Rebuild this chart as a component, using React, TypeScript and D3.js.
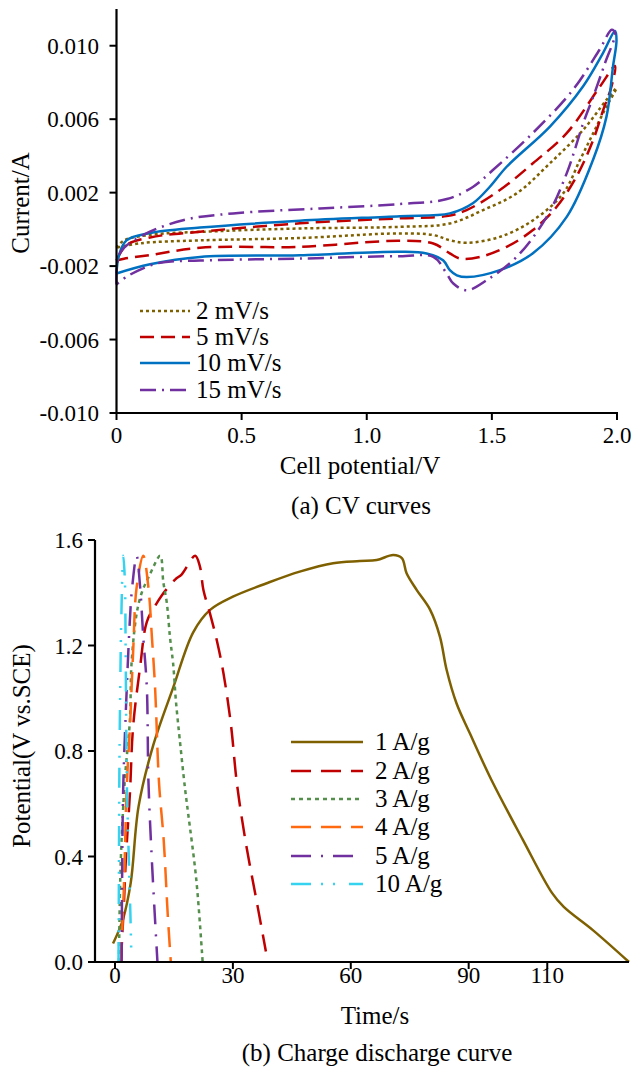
import React from "react";
import * as d3 from "d3";

const W = 639;
const H = 1069;
const FONT = '"Liberation Serif", "Times New Roman", serif';

// ---------- (a) CV curves ----------
const cvNames = ["2 mV/s", "5 mV/s", "10 mV/s", "15 mV/s"];
const cvColors = ["#7f6000", "#c00000", "#0070c0", "#7030a0"];
const cvDashes = ["3,3", "14,7", "none", "16,6,2,6"];
const cvXTicks = [0, 0.5, 1, 1.5, 2];
const cvXTickLabels = ["0", "0.5", "1.0", "1.5", "2.0"];
const cvYTicks = [-0.01, -0.006, -0.002, 0.002, 0.006, 0.01];

// [potential V, current A] anodic sweep then cathodic sweep
const cv2Anodic: [number, number][] = [
  [0, -0.001], [0.03, -0.0006], [0.134, -0.0003], [0.4, -0.0001], [0.733, 0.00005],
  [1.133, 0.00014], [1.332, 0.00032], [1.465, 0.00105], [1.599, 0.00196], [1.732, 0.0036],
  [1.865, 0.00542], [1.958, 0.00705], [1.998, 0.00769],
];
const cv2Cathodic: [number, number][] = [
  [1.958, 0.00669], [1.905, 0.00524], [1.852, 0.00378], [1.785, 0.00196], [1.665, 0.0005],
  [1.532, -0.00041], [1.399, -0.00073], [1.332, -0.00059], [1.266, -0.00031], [1.133, -0.00022],
  [0.733, -0.00047], [0.334, -0.0006], [0.1, -0.00075], [0, -0.001],
];
const cv5Anodic: [number, number][] = [
  [0, -0.0017], [0.04, -0.00086], [0.134, -0.00044], [0.334, -0.00013], [0.733, 0.00033],
  [1.133, 0.0006], [1.319, 0.00072], [1.399, 0.00105], [1.532, 0.00214], [1.664, 0.0036],
  [1.799, 0.00524], [1.932, 0.00778], [1.992, 0.0089],
];
const cv5Cathodic: [number, number][] = [
  [1.978, 0.00778], [1.945, 0.00651], [1.905, 0.00487], [1.838, 0.00287], [1.759, 0.00123],
  [1.664, -0.00004], [1.559, -0.00095], [1.452, -0.0015], [1.372, -0.00159], [1.332, -0.00131],
  [1.266, -0.00077], [1.133, -0.00062], [0.733, -0.00095], [0.334, -0.001], [0.134, -0.0014],
  [0.03, -0.0016], [0, -0.0017],
];
const cv10Anodic: [number, number][] = [
  [0, -0.0024], [0.01, -0.0014], [0.04, -0.0006], [0.134, -0.0002], [0.334, 0.0001],
  [0.733, 0.00047], [1.133, 0.00072], [1.332, 0.00087], [1.424, 0.00142], [1.492, 0.00232],
  [1.559, 0.00341], [1.732, 0.0056], [1.864, 0.00778], [1.944, 0.0096], [1.992, 0.0108],
];
const cv10Cathodic: [number, number][] = [
  [1.998, 0.0103], [1.984, 0.00887], [1.958, 0.00614], [1.904, 0.00378], [1.799, 0.00068],
  [1.664, -0.0013], [1.532, -0.00222], [1.4, -0.0026], [1.36, -0.0025], [1.332, -0.00222],
  [1.305, -0.00168], [1.239, -0.00131], [1.133, -0.00122], [0.733, -0.00141], [0.334, -0.0015],
  [0.134, -0.0019], [0, -0.0024],
];
const cv15Anodic: [number, number][] = [
  [0, -0.003], [0.014, -0.0013], [0.094, -0.0004], [0.266, 0.0005], [0.466, 0.00087],
  [0.813, 0.00114], [1.133, 0.00138], [1.32, 0.00165], [1.424, 0.00231], [1.504, 0.00323],
  [1.664, 0.00525], [1.824, 0.0076], [1.93, 0.00978], [1.979, 0.01087],
];
const cv15Cathodic: [number, number][] = [
  [1.992, 0.0107], [1.952, 0.00905], [1.905, 0.00723], [1.865, 0.00578], [1.799, 0.00305],
  [1.719, 0.00068], [1.599, -0.0015], [1.479, -0.00277], [1.399, -0.00332], [1.346, -0.00295],
  [1.319, -0.0024], [1.266, -0.0015], [1.133, -0.00146], [0.733, -0.00159], [0.334, -0.0017],
  [0.167, -0.00184], [0.05, -0.0025], [0, -0.003],
];
const cvData = [
  [...cv2Anodic, ...cv2Cathodic],
  [...cv5Anodic, ...cv5Cathodic],
  [...cv10Anodic, ...cv10Cathodic],
  [...cv15Anodic, ...cv15Cathodic],
];

// ---------- (b) charge discharge ----------
const gcdNames = ["1 A/g", "2 A/g", "3 A/g", "4 A/g", "5 A/g", "10 A/g"];
const gcdColors = ["#7f6000", "#c00000", "#548f4c", "#ff6a10", "#7030a0", "#35d3ef"];
const gcdDashes = ["none", "20,10", "4,4", "20,10", "20,10,2,10", "20,10,2,10,2,14"];
const gcdXTicks = [0, 30, 60, 90, 110];
const gcdYTicks = [0, 0.4, 0.8, 1.2, 1.6];

// [time s, potential V]
const gcd1: [number, number][] = [
  [-0.5, 0.07], [1, 0.12], [2, 0.16], [4, 0.3], [6, 0.59], [9.7, 0.82], [14.8, 1.04],
  [19.9, 1.25], [24.2, 1.335], [30, 1.385], [38.6, 1.436], [47, 1.48], [55.5, 1.512],
  [62.3, 1.52], [66.6, 1.524], [70.8, 1.543], [73, 1.531], [74.2, 1.474], [76.8, 1.41],
  [80.2, 1.335], [82.7, 1.233], [84.4, 1.107], [86.9, 0.981], [90.3, 0.867], [95.8, 0.69],
  [103.8, 0.463], [111.2, 0.262], [114.2, 0.209], [121.6, 0.121], [130.8, 0],
];
const gcd2: [number, number][] = [
  [1.5, 0], [2.2, 0.2], [2.8, 0.4], [3.8, 0.64], [4.6, 0.89], [6.4, 1.12], [8.1, 1.29],
  [10.2, 1.35], [11.9, 1.39], [15.3, 1.45], [17, 1.47], [20.4, 1.54], [21.6, 1.5],
  [22.5, 1.41], [24.2, 1.32], [25.9, 1.22], [27.6, 1.095], [29.5, 0.9], [31, 0.68],
  [33.2, 0.46], [36.3, 0.21], [38.4, 0.04],
];
const gcd3: [number, number][] = [
  [1, 0], [1.45, 0.375], [2.5, 0.69], [3.8, 0.92], [4.2, 1.13], [5.5, 1.32], [6.8, 1.4],
  [8.9, 1.47], [11.5, 1.54], [12.3, 1.44], [13.2, 1.36], [14, 1.23], [14.8, 1.13],
  [15.5, 0.99], [16.5, 0.84], [17.8, 0.66], [18.6, 0.565], [20.7, 0.31], [22.3, 0],
];
const gcd4: [number, number][] = [
  [1.5, 0], [2.3, 0.3], [3, 0.67], [3.8, 0.89], [4.6, 1.17], [5.5, 1.42], [7.2, 1.54],
  [8.5, 1.42], [9.4, 1.23], [10.2, 1.04], [11.2, 0.68], [12.4, 0.46], [13.4, 0.185], [14.2, 0],
];
const gcd5: [number, number][] = [
  [1.7, 0], [1.8, 0.3], [2.1, 0.665], [3, 1.04], [3.8, 1.3], [4.3, 1.41], [5.5, 1.54],
  [6.4, 1.42], [7.2, 1.23], [8.1, 1.04], [8.5, 0.69], [9.2, 0.44], [10.1, 0.185], [10.8, 0],
];
const gcd10: [number, number][] = [
  [0.9, 0], [1, 0.35], [1.1, 0.7], [1.3, 1], [1.6, 1.3], [2.1, 1.54], [2.5, 1.45],
  [2.7, 1.2], [2.85, 0.9], [3, 0.69], [3.5, 0.4], [3.9, 0.19], [4.2, 0],
];
const gcdData = [gcd1, gcd2, gcd3, gcd4, gcd5, gcd10];

const TICK_FS = 23;
const LABEL_FS = 25;

const App = () => {
  // top chart scales
  const cx = d3.scaleLinear().domain([0, 2]).range([116.5, 617]);
  const cy = d3.scaleLinear().domain([-0.01, 0.012]).range([413, 9]);
  const cvLine = d3
    .line<[number, number]>()
    .x((d) => cx(d[0]))
    .y((d) => cy(d[1]))
    .curve(d3.curveCatmullRom.alpha(0.5));

  // bottom chart scales
  const gx = d3.scaleLinear().domain([-5.09, 130.8]).range([95, 629]);
  const gy = d3.scaleLinear().domain([0, 1.6]).range([962, 540]);
  const gcdLine = d3
    .line<[number, number]>()
    .x((d) => gx(d[0]))
    .y((d) => gy(d[1]))
    .curve(d3.curveCatmullRom.alpha(0.5));

  const cvLegendY = [311, 337, 363, 390];
  const gcdLegendY = [742, 771, 799, 827, 856, 884];

  return (
    <div style={{ position: "absolute", left: 0, top: 0 }}>
      <svg width={W} height={H} style={{ display: "block", background: "#fff" }} fontFamily={FONT}>
        {/* ---- (a) ---- */}
        {cvData.map((d, i) => (
          <path
            key={cvNames[i]}
            d={cvLine(d) || ""}
            fill="none"
            stroke={cvColors[i]}
            strokeWidth={2.5}
            strokeDasharray={cvDashes[i]}
          />
        ))}
        <line x1={cx(0)} x2={cx(0)} y1={cy(0.012)} y2={cy(-0.01)} stroke="#000" strokeWidth={2.2} />
        <line x1={cx(0)} x2={cx(2) + 1} y1={cy(-0.01)} y2={cy(-0.01)} stroke="#000" strokeWidth={2.2} />
        {cvYTicks.map((v) => (
          <g key={v}>
            <line x1={cx(0) - 7} x2={cx(0)} y1={cy(v)} y2={cy(v)} stroke="#000" strokeWidth={2} />
            <text x={99} y={cy(v) + 8} textAnchor="end" fontSize={TICK_FS}>
              {v.toFixed(3)}
            </text>
          </g>
        ))}
        {cvXTicks.map((v, i) => (
          <g key={v}>
            <line x1={cx(v)} x2={cx(v)} y1={cy(-0.01)} y2={cy(-0.01) + 7} stroke="#000" strokeWidth={2} />
            <text x={cx(v)} y={443} textAnchor="middle" fontSize={TICK_FS}>
              {cvXTickLabels[i]}
            </text>
          </g>
        ))}
        <text transform="translate(29,203) rotate(-90)" textAnchor="middle" fontSize={LABEL_FS}>
          Current/A
        </text>
        <text x={360} y={474} textAnchor="middle" fontSize={LABEL_FS}>
          Cell potential/V
        </text>
        <text x={361} y={514} textAnchor="middle" fontSize={LABEL_FS}>
          (a) CV curves
        </text>
        {cvNames.map((n, i) => (
          <g key={n}>
            <line
              x1={140}
              x2={190}
              y1={cvLegendY[i]}
              y2={cvLegendY[i]}
              stroke={cvColors[i]}
              strokeWidth={2.5}
              strokeDasharray={cvDashes[i]}
            />
            <text x={196} y={cvLegendY[i] + 8} fontSize={LABEL_FS}>
              {n}
            </text>
          </g>
        ))}

        {/* ---- (b) ---- */}
        {gcdData.map((d, i) => (
          <path
            key={gcdNames[i]}
            d={gcdLine(d) || ""}
            fill="none"
            stroke={gcdColors[i]}
            strokeWidth={2.5}
            strokeDasharray={gcdDashes[i]}
          />
        ))}
        <line x1={gx.range()[0]} x2={gx.range()[0]} y1={gy(1.6)} y2={gy(0)} stroke="#000" strokeWidth={2.2} />
        <line x1={gx.range()[0]} x2={gx.range()[1]} y1={gy(0)} y2={gy(0)} stroke="#000" strokeWidth={2.2} />
        {gcdYTicks.map((v) => (
          <g key={v}>
            <line x1={gx.range()[0] - 7} x2={gx.range()[0]} y1={gy(v)} y2={gy(v)} stroke="#000" strokeWidth={2} />
            <text x={83} y={gy(v) + 8} textAnchor="end" fontSize={TICK_FS}>
              {v.toFixed(1)}
            </text>
          </g>
        ))}
        {gcdXTicks.map((v) => (
          <g key={v}>
            <line x1={gx(v)} x2={gx(v)} y1={gy(0)} y2={gy(0) + 7} stroke="#000" strokeWidth={2} />
            <text x={gx(v)} y={983} textAnchor="middle" fontSize={TICK_FS}>
              {v}
            </text>
          </g>
        ))}
        <text transform="translate(30,746) rotate(-90)" textAnchor="middle" fontSize={LABEL_FS}>
          Potential(V vs.SCE)
        </text>
        <text x={375} y={1024} textAnchor="middle" fontSize={LABEL_FS}>
          Time/s
        </text>
        <text x={377} y={1061} textAnchor="middle" fontSize={LABEL_FS}>
          (b) Charge discharge curve
        </text>
        {gcdNames.map((n, i) => (
          <g key={n}>
            <line
              x1={291}
              x2={363}
              y1={gcdLegendY[i]}
              y2={gcdLegendY[i]}
              stroke={gcdColors[i]}
              strokeWidth={2.5}
              strokeDasharray={gcdDashes[i]}
            />
            <text x={375} y={gcdLegendY[i] + 8} fontSize={LABEL_FS}>
              {n}
            </text>
          </g>
        ))}
      </svg>
    </div>
  );
};

export default App;
